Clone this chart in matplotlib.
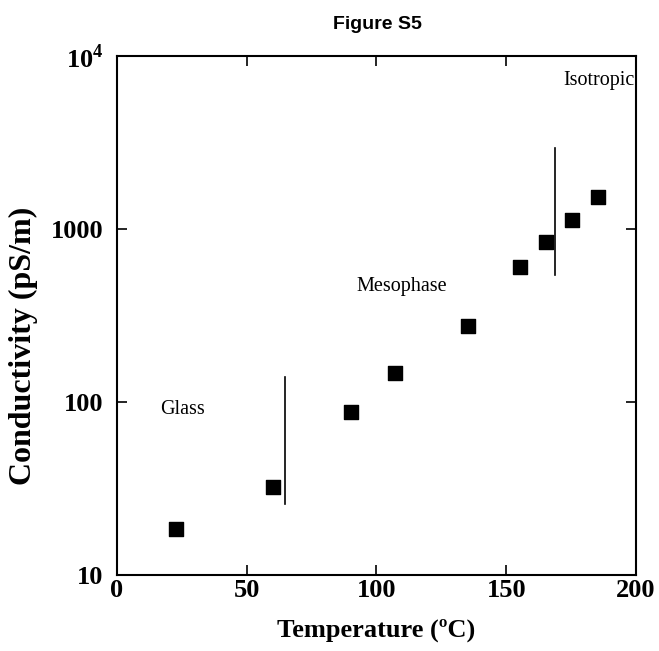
import matplotlib
matplotlib.use("Agg")
from matplotlib import pyplot as plt
from matplotlib.ticker import FixedLocator, NullLocator

# data
temperature = [22.7, 60.1, 90.2, 107, 135.3, 155.3, 165.3, 175.3, 185.4]
conductivity = [18.4, 32.3, 87.5, 147, 275, 605, 838, 1127, 1525]

# phase boundaries (x, y_bottom, y_top)
boundary_x = [64.6, 169]
boundary_lo = [25.7, 542]
boundary_hi = [140, 2927]

phase_names = ['Glass', 'Mesophase', 'Isotropic']
phase_x = [25.4, 109.8, 185.7]
phase_y = [91, 468, 7200]

x_ticks = [0, 50, 100, 150, 200]
y_ticks = [10, 100, 1000, 10000]
y_ticklabels = ['10', '100', '1000', r'10$^{\mathbf{4}}$']

serif = 'Liberation Serif'
sans = 'Liberation Sans'
plt.rcParams['mathtext.fontset'] = 'custom'
plt.rcParams['mathtext.rm'] = serif
plt.rcParams['mathtext.bf'] = serif + ':bold'

fig = plt.figure(figsize=(6.59, 6.51), dpi=100)
ax = fig.add_axes([0.1775, 0.1167, 0.7875, 0.7973])

ax.scatter(temperature, conductivity, marker='s', s=95, color='black', zorder=3)
for bx, lo, hi in zip(boundary_x, boundary_lo, boundary_hi):
    ax.plot([bx, bx], [lo, hi], color='black', lw=1.2)

for name, px, py in zip(phase_names, phase_x, phase_y):
    ax.text(px, py, name, fontsize=14.5, family=serif, ha='center', va='center')

ax.set_yscale('log')
ax.set_xlim(0, 200)
ax.set_ylim(10, 10000)
ax.xaxis.set_major_locator(FixedLocator(x_ticks))
ax.yaxis.set_major_locator(FixedLocator(y_ticks))
ax.yaxis.set_minor_locator(NullLocator())
ax.set_yticklabels(y_ticklabels)
ax.set_xticklabels([str(t) for t in x_ticks])

ax.tick_params(direction='in', top=True, right=True, length=7, width=1.2,
               labelsize=19)
ax.tick_params(axis='x', pad=3)
ax.tick_params(axis='y', pad=10)
for lab in ax.get_xticklabels() + ax.get_yticklabels():
    lab.set_family(serif)
    lab.set_weight('bold')
for sp in ax.spines.values():
    sp.set_linewidth(1.5)

ax.set_xlabel('Temperature (ºC)', family=serif, weight='bold', fontsize=19, labelpad=12)
ax.set_ylabel('Conductivity (pS/m)', family=serif, weight='bold', fontsize=23)
ax.yaxis.set_label_coords(-0.152, 0.441)
fig.suptitle('Figure S5', family=sans, weight='bold', fontsize=14, x=0.572, y=0.975)

fig.savefig('out.png', dpi=100)
